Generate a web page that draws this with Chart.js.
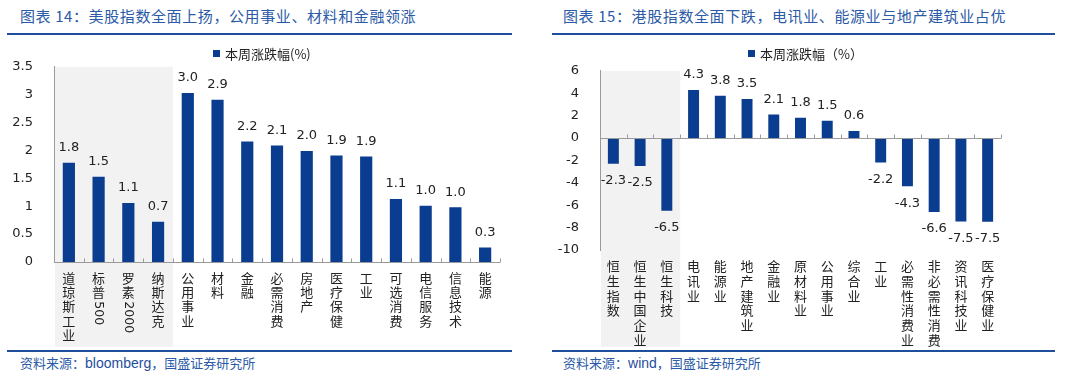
<!DOCTYPE html>
<html><head><meta charset="utf-8">
<script src="https://cdn.jsdelivr.net/npm/chart.js@4/dist/chart.umd.min.js"></script>
<style>
html,body{margin:0;padding:0;background:#fff;}
body{width:1080px;height:381px;position:relative;overflow:hidden;font-family:"Noto Sans CJK SC","DejaVu Sans",sans-serif;}
.title{position:absolute;top:5px;font-size:15px;color:#2b5aa6;letter-spacing:0.6px;white-space:nowrap;}
.rule{position:absolute;height:2px;background:#1f4e9c;}
.src{position:absolute;top:353px;font-size:13px;color:#2b5aa6;white-space:nowrap;}
.src span{font-family:"Liberation Sans",Arial,sans-serif;font-size:14px;color:#1f4e9c;}
.legend{position:absolute;top:44px;font-size:13px;color:#222;white-space:nowrap;display:flex;align-items:center;}
.legend i{display:inline-block;width:7px;height:7px;background:#0a3d8f;margin-right:5px;}
canvas{position:absolute;left:0;top:0;}
</style></head>
<body>
<div class="title" style="left:20px">图表 14：美股指数全面上扬，公用事业、材料和金融领涨</div>
<div class="title" style="left:563px">图表 15：港股指数全面下跌，电讯业、能源业与地产建筑业占优</div>
<div class="rule" style="left:7px;width:505px;top:33px"></div>
<div class="rule" style="left:552px;width:503px;top:33px"></div>
<div class="rule" style="left:7px;width:505px;top:350px"></div>
<div class="rule" style="left:552px;width:503px;top:350px"></div>
<div class="src" style="left:20px">资料来源：<span>bloomberg</span>，国盛证券研究所</div>
<div class="src" style="left:563px">资料来源：<span>wind</span>，国盛证券研究所</div>
<div style="position:absolute;left:0;top:46px;width:540px;height:304px"><canvas id="c1"></canvas></div>
<div style="position:absolute;left:540px;top:50px;width:540px;height:300px"><canvas id="c2"></canvas></div>
<div class="legend" style="left:213px"><i></i>本周涨跌幅(%)</div>
<div class="legend" style="left:748px"><i></i>本周涨跌幅（%）</div>
<script>
// ---- data ----
const usCategories = ['道琼斯工业','标普500','罗素2000','纳斯达克','公用事业','材料','金融','必需消费','房地产','医疗保健','工业','可选消费','电信服务','信息技术','能源'];
const usValues = [1.78,1.53,1.06,0.72,3.03,2.91,2.16,2.09,1.99,1.91,1.89,1.13,1.01,0.98,0.26];
const usTicks = {min:0, max:3.5, step:0.5};
const usIndexCount = 4;

const hkCategories = ['恒生指数','恒生中国企业','恒生科技','电讯业','能源业','地产建筑业','金融业','原材料业','公用事业','综合业','工业','必需性消费业','非必需性消费','资讯科技业','医疗保健业'];
const hkValues = [-2.31,-2.49,-6.5,4.29,3.78,3.48,2.1,1.8,1.54,0.62,-2.18,-4.3,-6.6,-7.46,-7.48];
const hkTicks = {min:-10, max:6, step:2};
const hkIndexCount = 3;

const seriesName = '本周涨跌幅';
const BAR = '#0a3d8f';
const NUMFONT = '13px "DejaVu Sans"';
const CJKFONT = '13px "Noto Sans CJK SC"';

function drawVertical(ctx, text, x, yStart, pitch){
  let y = yStart;
  const tokens = text.match(/[\x00-\x7F]+|[^\x00-\x7F]/g) || [];
  for (const t of tokens){
    if (/^[\x00-\x7F]+$/.test(t)){
      ctx.font = '12.5px "DejaVu Sans"';
      const w = ctx.measureText(t).width;
      const top = y - pitch/2 + 2;
      ctx.save(); ctx.translate(x, top); ctx.rotate(Math.PI/2);
      ctx.textAlign='left'; ctx.textBaseline='middle';
      ctx.fillText(t, 0, 0.5);
      ctx.restore();
      y = top + w + pitch/2 + 1;
    } else {
      ctx.font = CJKFONT;
      ctx.textAlign='center'; ctx.textBaseline='middle';
      ctx.fillText(t, x, y);
      y += pitch;
    }
  }
}

function makePlugin(bandCount, bandBottom, pitch){
  return {
    id:'deco',
    beforeDatasetsDraw(chart){
      const {ctx, chartArea, scales:{x}} = chart;
      const half = (x.getPixelForValue(1) - x.getPixelForValue(0))/2;
      const bx = x.getPixelForValue(bandCount-1) + half;
      ctx.save();
      ctx.fillStyle = '#f2f2f2';
      ctx.fillRect(chartArea.left+1, chartArea.top, bx - chartArea.left - 1, bandBottom - chartArea.top);
      ctx.restore();
    },
    afterDatasetsDraw(chart){
      const {ctx, chartArea, scales:{x,y}} = chart;
      const n = chart.data.labels.length;
      const half = (x.getPixelForValue(1) - x.getPixelForValue(0))/2;
      const y0 = Math.round(y.getPixelForValue(0)) + 0.5;
      ctx.save();
      ctx.strokeStyle = '#9a9a9a'; ctx.lineWidth = 1;
      ctx.beginPath();
      ctx.moveTo(chartArea.left, y0); ctx.lineTo(x.getPixelForValue(n-1)+half, y0);
      for (let i=0;i<=n;i++){
        const px = Math.round(x.getPixelForValue(0) - half + i*2*half) + 0.5;
        ctx.moveTo(px, y0-4); ctx.lineTo(px, y0);
      }
      ctx.stroke();
      const meta = chart.getDatasetMeta(0);
      ctx.fillStyle = '#222'; ctx.font = NUMFONT;
      ctx.textAlign='center'; ctx.textBaseline='middle';
      chart.data.datasets[0].data.forEach((v,i)=>{
        const el = meta.data[i];
        const yy = v >= 0 ? el.y - 15 : el.y + 17;
        ctx.fillText(v.toFixed(1), el.x, yy);
      });
      ctx.fillStyle = '#222';
      chart.data.labels.forEach((lab,i)=>{
        drawVertical(ctx, lab, x.getPixelForValue(i), chartArea.bottom + 16, pitch);
      });
      ctx.restore();
    }
  };
}

function makeChart(id, cats, vals, t, bandCount, xHeight, yWidth, padRight, bandBottom, pitch){
  return new Chart(document.getElementById(id), {
    type:'bar',
    data:{labels:cats, datasets:[{label:seriesName, data:vals, backgroundColor:BAR, borderWidth:0, categoryPercentage:1, barPercentage:0.41}]},
    options:{
      responsive:true, maintainAspectRatio:false, animation:false, devicePixelRatio:1,
      layout:{padding:{top:0,left:0,right:padRight,bottom:0}},
      plugins:{legend:{display:false}, tooltip:{enabled:false}},
      scales:{
        x:{grid:{display:false}, border:{display:false}, ticks:{display:false},
           afterFit(s){ s.height = xHeight; }},
        y:{min:t.min, max:t.max, grid:{display:false}, border:{display:true,color:'#9a9a9a'},
           ticks:{stepSize:t.step, padding:13, color:'#222', font:{family:'DejaVu Sans', size:13},
                  callback:(v)=>String(Number(v.toFixed(1)))},
           afterFit(s){ s.width = yWidth; }}
      }
    },
    plugins:[makePlugin(bandCount, bandBottom, pitch)]
  });
}

makeChart('c1', usCategories, usValues, usTicks, usIndexCount, 88, 54, 40, 301, 14.2);
makeChart('c2', hkCategories, hkValues, hkTicks, hkIndexCount, 100, 60, 79, 297, 14.8);
</script>
</body></html>
